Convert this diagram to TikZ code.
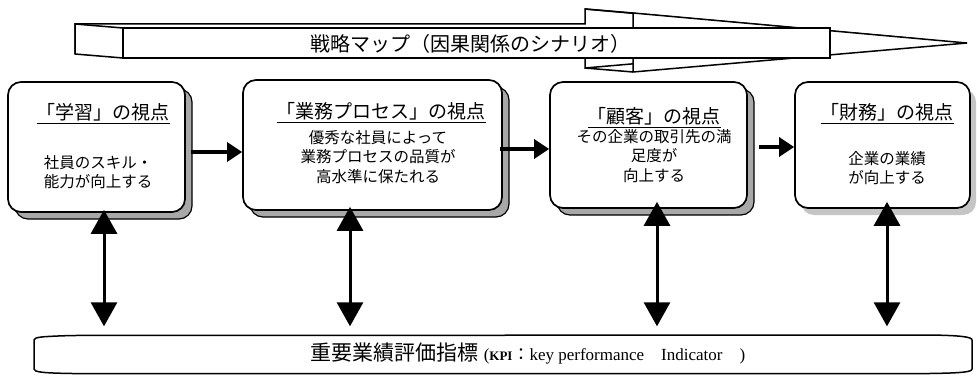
\documentclass[tikz,border=0pt]{standalone}
\usepackage{fontspec}
\setmainfont{Liberation Serif}
\newfontfamily\jp{Noto Sans CJK JP}
\usetikzlibrary{arrows.meta,shadows}
\definecolor{shadowgray}{HTML}{A8A8A8}
\tikzset{
  pbox/.style={draw=black, line width=1.7pt, fill=white, rounded corners=13pt,
    copy shadow={shadow xshift=7pt, shadow yshift=-7pt, fill=shadowgray, draw=black, line width=1.2pt}},
  pboxsoft/.style={draw=black, line width=1.7pt, fill=white, rounded corners=13pt,
    drop shadow={shadow xshift=6pt, shadow yshift=-7pt, fill=gray, opacity=0.45}},
  ptitle/.style={font=\jp\fontsize{19}{19}\selectfont, inner sep=0pt, anchor=base},
  pbody/.style={font=\jp\fontsize{15.5}{19.5}\selectfont, align=center, inner sep=0pt},
  harrow/.style={line width=3.4pt, -{Triangle[length=15pt,width=19pt]}},
  varrow/.style={line width=3pt, {Triangle[length=24pt,width=26pt]}-{Triangle[length=24pt,width=26pt]}},
  outline/.style={draw=black, line width=1.5pt, fill=white, line join=miter},
}
\begin{document}
\begin{tikzpicture}[x=1pt,y=-1pt]
\useasboundingbox (0,0) rectangle (977,377);
\fill[white] (0,0) rectangle (977,377);

% ---- 3D block arrow (strategy map) ----
\fill[white] (585,54) -- (585,68) -- (919,39) -- (585,9) -- (585,24) -- (75,24) -- (75,54) -- cycle;
\draw[line width=1.5pt, line join=miter] (585,54) -- (585,68) -- (919,39) -- (585,9) -- (585,24) -- (75,24) -- (75,54);
\draw[outline] (75,24) -- (123,28) -- (123,58) -- (75,54) -- cycle;
\draw[line width=1.5pt] (585,9) -- (633,13);
\draw[line width=1.5pt] (585,68) -- (633,72);
\draw[outline] (123,28) -- (633,28) -- (633,13) -- (967,43) -- (633,72) -- (633,58) -- (123,58) -- cycle;
\node[draw=black, line width=1.3pt, fill=white, minimum width=707pt, minimum height=30pt, inner sep=0pt] (mapbox) at (476.5,43) {};
\node[font=\jp\fontsize{20}{20}\selectfont, inner sep=0pt] (maptext) at (470,44) {戦略マップ（因果関係のシナリオ）};

% ---- four perspective boxes ----
\node[pbox, minimum width=177pt, minimum height=130pt] (b1) at (96.5,147) {};
\node[pbox, minimum width=259pt, minimum height=130pt] (b2) at (372.5,145) {};
\node[pbox, minimum width=197pt, minimum height=126pt] (b3) at (648.5,145) {};
\node[pboxsoft, minimum width=175pt, minimum height=126pt] (b4) at (882.5,145) {};

\node[ptitle] (t1) at (103,120) {\underline{「学習」の視点}};
\node[ptitle] (t2) at (381,119) {\underline{「業務プロセス」の視点}};
\node[ptitle] (t3) at (654,124) {\underline{「顧客」の視点}};
\node[ptitle] (t4) at (887,120) {\underline{「財務」の視点}};

\node[pbody] (d1) at (98,172) {社員のスキル・\\能力が向上する};
\node[pbody] (d2) at (378,157) {優秀な社員によって\\業務プロセスの品質が\\高水準に保たれる};
\node[pbody] (d3) at (654,156) {その企業の取引先の満\\足度が\\向上する};
\node[pbody] (d4) at (887,168) {企業の業績\\が向上する};

% ---- horizontal arrows ----
\coordinate (h1) at ([xshift=5pt,yshift=-5pt]b1.east);
\coordinate (h2) at ([xshift=-3pt,yshift=-4pt]b2.east);
\coordinate (h3) at ([xshift=11pt,yshift=-2pt]b3.east);
\draw[harrow] (h1) -- (h1 -| b2.west);
\draw[harrow] (h2) -- (h2 -| b3.west);
\draw[harrow] (h3) -- (h3 -| b4.west);

% ---- KPI bar ----
\draw[line width=1.5pt, fill=white]
  (34,340) .. controls (34,337) and (42,336.5) .. (72,335.5) -- (930,335)
  .. controls (962,335.5) and (972,337) .. (972,340) -- (972,369)
  .. controls (972,372) and (962,373) .. (930,373.5) -- (72,373.5)
  .. controls (42,373) and (34,372) .. (34,369) -- cycle;
\node[minimum width=938pt, minimum height=38pt, inner sep=0pt] (kpi) at (503,354.5) {};
\node[inner sep=0pt] (kpitext) at (528,354)
  {\jp\fontsize{21}{21}\selectfont 重要業績評価指標\hspace{5pt}{\rmfamily\fontsize{17}{17}\selectfont (\textbf{\fontsize{13}{13}\selectfont KPI}{\jp ：}key performance\quad Indicator\quad )}};

% ---- vertical double arrows ----
\coordinate (v1) at (104,0 |- b1.south);
\coordinate (v2) at (350,0 |- b2.south);
\coordinate (v3) at (657,0 |- b3.south);
\coordinate (v4) at (887,0 |- b4.south);
\draw[varrow, shorten <=-3pt, shorten >=9pt] (v1) -- (v1 |- kpi.north);
\draw[varrow, shorten <=-4pt, shorten >=9pt] (v2) -- (v2 |- kpi.north);
\draw[varrow, shorten <=-7pt, shorten >=9pt] (v3) -- (v3 |- kpi.north);
\draw[varrow, shorten <=-7pt, shorten >=9pt] (v4) -- (v4 |- kpi.north);
\end{tikzpicture}
\end{document}
